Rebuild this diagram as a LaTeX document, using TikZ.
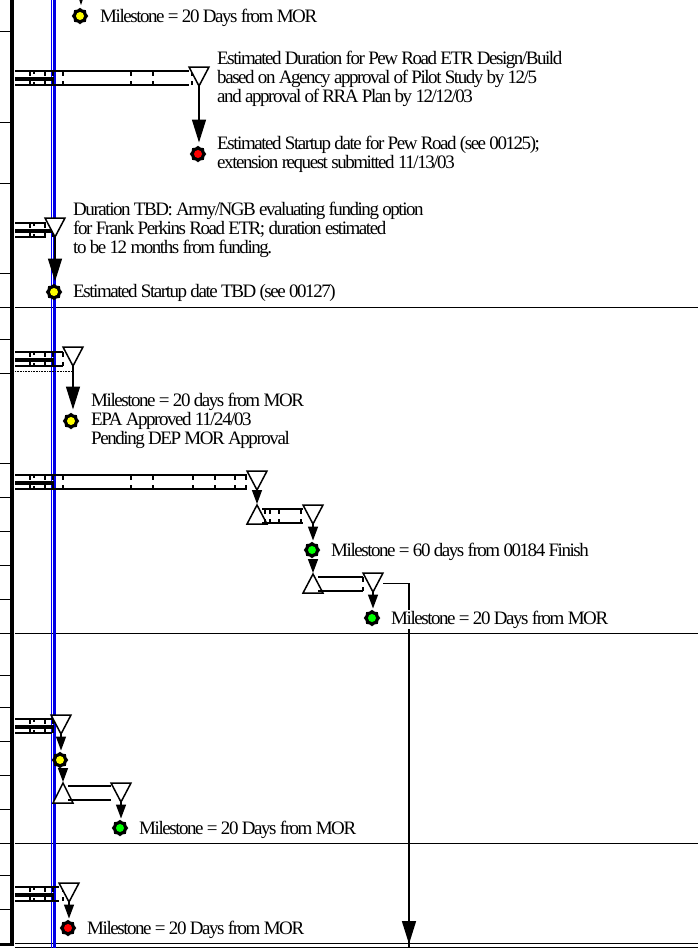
\documentclass[tikz,border=0pt]{standalone}
\usepackage{fontspec}
\setmainfont[LetterSpace=-7.6]{Liberation Serif}
\usetikzlibrary{arrows.meta,shapes.geometric,calc}
\definecolor{msyellow}{RGB}{255,255,0}
\definecolor{msgreen}{RGB}{0,255,0}
\definecolor{msred}{RGB}{255,0,0}
\tikzset{
  rule/.style={line width=0.9pt,black},
  tri/.style={line width=1.5pt,fill=white,line join=miter},
  barline/.style={line width=1.6pt},
  conn/.style={line width=1.5pt,-{Triangle[length=23pt,width=14pt]}},
  connshort/.style={line width=1.5pt,-{Triangle[length=14pt,width=10pt]},shorten >=1pt},
  ms/.style={star,star points=8,star point ratio=1.2,fill=black,inner sep=0pt,minimum size=16.5pt},
  lbl/.style={anchor=base west,inner sep=0pt,font=\fontsize{19}{19}\selectfont,align=left},
}
\newcommand\tk[2]{\draw[line width=1.3pt] (#1,#2) -- ++(0,4.5) (#1,#2+14) -- ++(0,-4.5);}
% left summary part of a task bar: y = top line
\newcommand\lefttask[2]{%
  \draw[barline] (15,#1) -- (#2,#1) (15,#1+14) -- (#2,#1+14);
  \fill (15,#1+6) rectangle (54,#1+10);
  \tk{30}{#1}\tk{45}{#1}\tk{53}{#1}
  \draw[line width=2.4pt] (34,#1) -- ++(0,3) (34,#1+14) -- ++(0,-3);
}
\newcommand\rbar[3]{\draw[barline] (#1,#3) -- (#2,#3) (#1,#3+14) -- (#2,#3+14);}
\newcommand\dtri[4]{% name, x, ytop, ybottom
  \draw[tri] (#2-10,#3) -- (#2+10,#3) -- (#2,#4) -- cycle;
  \coordinate (#1) at (#2,#4);}
\newcommand\utri[4]{% name, x, yapex, ybase
  \draw[tri] (#2,#3) -- (#2+10,#4) -- (#2-10,#4) -- cycle;
  \coordinate (#1) at (#2,#3);}
\newcommand\mstone[4]{\node[ms] (#1) at (#2,#3) {}; \fill[#4] (#1) circle (4);}
\begin{document}
\begin{tikzpicture}[x=1pt,y=-1pt]
\useasboundingbox (0,0) rectangle (698,948);
% frame
\foreach \yy in {31,122,183,273,307,339,373,463,497,531,565,599,633,675,707,741,775,809,843,875,909}
  \draw[rule] (0,\yy) -- (10,\yy);
\fill (10,0) rectangle (14,945);
\fill (0,943) rectangle (14,945.5);
\draw[rule] (15,307) -- (698,307);
\draw[rule] (15,633) -- (698,633);
\draw[rule] (15,843) -- (698,843);
\draw[rule] (15,943.5) -- (698,943.5);
\draw[rule] (15,947) -- (698,947);
% today line
\draw[blue,line width=0.8pt] (51.6,0) -- (51.6,948);
\draw[blue!90!black,line width=3.2pt] (54.6,0) -- (54.6,948);

% top
\mstone{m0}{80}{16}{msyellow}
\fill (79.3,0) -- (82.7,0) -- (81,5) -- cycle;
\node[lbl] (t0) at (100,22) {Milestone = 20 Days from MOR};

% Pew Road
\lefttask{71}{189}
\rbar{54}{189}{71}
\foreach \xx in {63,131,153,192} {\tk{\xx}{71}}
\dtri{a1}{199}{67}{86}
\mstone{m1}{198}{154}{msred}
\draw[conn] (a1) -- ($(a1 |- m1.north)+(0,-3)$);
\node[lbl] (t1) at (217,102) {Estimated Duration for Pew Road ETR Design/Build\\based on Agency approval of Pilot Study by 12/5\\and approval of RRA Plan by 12/12/03};
\node[lbl] (t1b) at (217,168) {Estimated Startup date for Pew Road (see 00125);\\extension request submitted 11/13/03};

% Frank Perkins
\lefttask{223}{46}
\dtri{a2}{55}{218}{237}
\mstone{m2}{54}{292}{msyellow}
\draw[conn] (a2) -- ($(a2 |- m2.north)+(0,-2)$);
\node[lbl] (t2) at (73,253) {Duration TBD: Army/NGB evaluating funding option\\for Frank Perkins Road ETR; duration estimated\\to be 12 months from funding.};
\node[lbl] (t2b) at (73,297) {Estimated Startup date TBD (see 00127)};

% third
\lefttask{352}{63}
\tk{63}{352}
\dtri{a3}{73}{347}{366}
\draw[densely dotted,line width=0.6pt] (15,371) -- (72,371);
\mstone{m3}{71}{421}{msyellow}
\draw[conn] (a3) -- ($(a3 |- m3.north)+(0,-3)$);
\node[lbl] (t3) at (91,444) {Milestone = 20 days from MOR\\EPA Approved 11/24/03\\Pending DEP MOR Approval};

% fourth chain
\lefttask{475}{247}
\rbar{54}{247}{475}
\foreach \xx in {63,131,153,193,215,235,246} {\tk{\xx}{475}}
\dtri{a4}{257}{471}{490}
\utri{b4}{257}{505}{524}
\draw[connshort] (a4) -- (b4);
\rbar{262}{303}{509}
\foreach \xx in {265,270,279,301} {\tk{\xx}{509}}
\dtri{a5}{313}{505}{524}
\mstone{m5}{312}{550}{msgreen}
\draw[connshort] (a5) -- (a5 |- m5.north);
\node[lbl] (t5) at (331,556) {Milestone = 60 days from 00184 Finish};
\utri{b5}{313}{574}{593}
\rbar{318}{363}{577}
\tk{363}{577}
\dtri{a6}{373}{573}{592}
\mstone{m6}{372}{618}{msgreen}
\draw[connshort] (m5.south -| b5) -- (b5);
\draw[connshort] (a6) -- (a6 |- m6.north);
% long link
\coordinate (a6r) at (383,583);
\coordinate (link) at (409,583);
\coordinate (end) at (409,944);
\draw[line width=0.8pt] (a6r) -- (link);
\draw[line width=1.5pt] (link) -- (409,948);
\draw[conn] (link) -- (end);
\node[lbl,fill=white,inner ysep=1pt] (t6) at (391,624) {Milestone = 20 Days from MOR};

% fifth
\lefttask{719}{52}
\dtri{a7}{61}{715}{734}
\mstone{m7}{60}{760}{msyellow}
\draw[connshort] (a7) -- (a7 |- m7.north);
\utri{b7}{63}{783}{803}
\draw[connshort] (m7.south -| b7) -- (b7);
\rbar{68}{111}{786}
\dtri{a8}{121}{783}{802}
\mstone{m8}{120}{828}{msgreen}
\draw[connshort] (a8) -- (a8 |- m8.north);
\node[lbl] (t8) at (139,834) {Milestone = 20 Days from MOR};

% sixth
\lefttask{887}{59}
\tk{63}{887}
\dtri{a9}{69}{883}{902}
\mstone{m9}{68}{928}{msred}
\draw[connshort] (a9) -- (a9 |- m9.north);
\node[lbl] (t9) at (87,934) {Milestone = 20 Days from MOR};
\end{tikzpicture}
\end{document}
